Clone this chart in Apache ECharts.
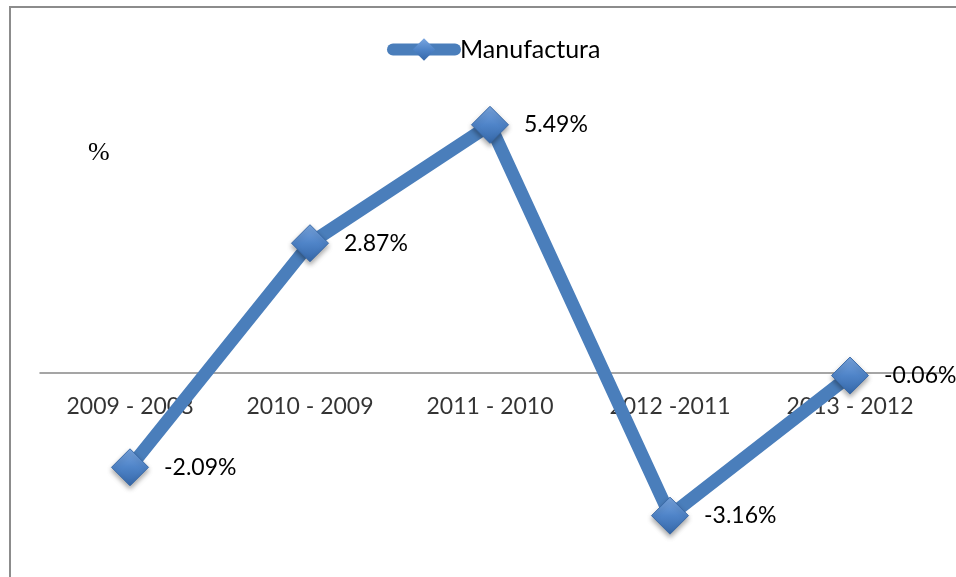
<!DOCTYPE html>
<html>
<head>
<meta charset="utf-8">
<script src="https://cdn.jsdelivr.net/npm/echarts@6/dist/echarts.min.js"></script>
<style>
  html, body { margin: 0; padding: 0; background: #fff; }
  #chart { width: 956px; height: 577px; }
</style>
</head>
<body>
<div id="chart"></div>
<script>
// 类目与数值
const periods = ['2009 - 2008', '2010 - 2009', '2011 - 2010', '2012 -2011', '2013 - 2012']
const manufactura = [-2.09, 2.87, 5.49, -3.16, -0.06]
const seriesName = 'Manufactura'

const blue = '#4a7ebb'
const font = 'Lato, "Open Sans", sans-serif'

const chart = echarts.init(document.getElementById('chart'))

const options = {
  animation: false,
  backgroundColor: '#fff',
  graphic: [
    // 外框
    {
      type: 'rect',
      shape: { x: 10, y: 7, width: 980, height: 600 },
      style: { fill: 'none', stroke: '#8c8c8c', lineWidth: 2 },
      z: -1
    },
    {
      type: 'text',
      left: 88,
      top: 140,
      style: {
        text: '%',
        fontFamily: '"Liberation Serif", "DejaVu Serif", serif',
        fontSize: 26,
        fill: '#000'
      }
    }
  ],
  legend: {
    left: 382,
    top: 32,
    itemWidth: 62,
    itemHeight: 28,
    itemGap: 4,
    textStyle: { fontFamily: font, fontSize: 25, color: '#000' },
    data: [
      {
        name: seriesName,
        itemStyle: { borderWidth: 0 },
        lineStyle: { width: 12, cap: 'round' }
      }
    ]
  },
  grid: { left: 40, width: 900, top: 56.6, height: 497, outerBoundsMode: 'none' },
  xAxis: {
    type: 'category',
    data: periods,
    boundaryGap: true,
    axisLine: { show: true, onZero: true, lineStyle: { color: '#888', width: 1.5 } },
    axisTick: { show: false },
    axisLabel: { show: false },
    z: 0
  },
  yAxis: {
    type: 'value',
    min: -4,
    max: 7,
    show: false,
    splitLine: { show: false }
  },
  series: [
    {
      // 类目标签，贴在零线下方
      name: 'cats',
      type: 'scatter',
      data: periods.map((p, i) => [i, 0]),
      symbol: 'circle',
      symbolSize: 1,
      itemStyle: { color: 'rgba(0,0,0,0)' },
      silent: true,
      label: {
        show: true,
        position: 'bottom',
        distance: 22,
        fontFamily: font,
        fontSize: 23,
        color: '#000',
        formatter: (p) => periods[p.dataIndex]
      },
      z: 1
    },
    {
      name: seriesName,
      type: 'line',
      data: manufactura,
      symbol: 'diamond',
      symbolSize: 37,
      lineStyle: { color: blue, width: 13 },
      itemStyle: {
        color: new echarts.graphic.LinearGradient(0, 0, 0, 1, [
          { offset: 0, color: '#7aa6e0' },
          { offset: 0.5, color: '#4f84c8' },
          { offset: 1, color: '#3567a8' }
        ]),
        borderColor: '#3a6aa8',
        borderWidth: 1,
        shadowBlur: 5,
        shadowOffsetY: 3,
        shadowColor: 'rgba(0,0,0,0.35)'
      },
      label: {
        show: true,
        position: 'right',
        distance: 15,
        fontFamily: font,
        fontSize: 23,
        color: '#000',
        formatter: (p) => p.value.toFixed(2) + '%'
      },
      z: 3
    }
  ]
}

chart.setOption(options)
</script>
</body>
</html>
